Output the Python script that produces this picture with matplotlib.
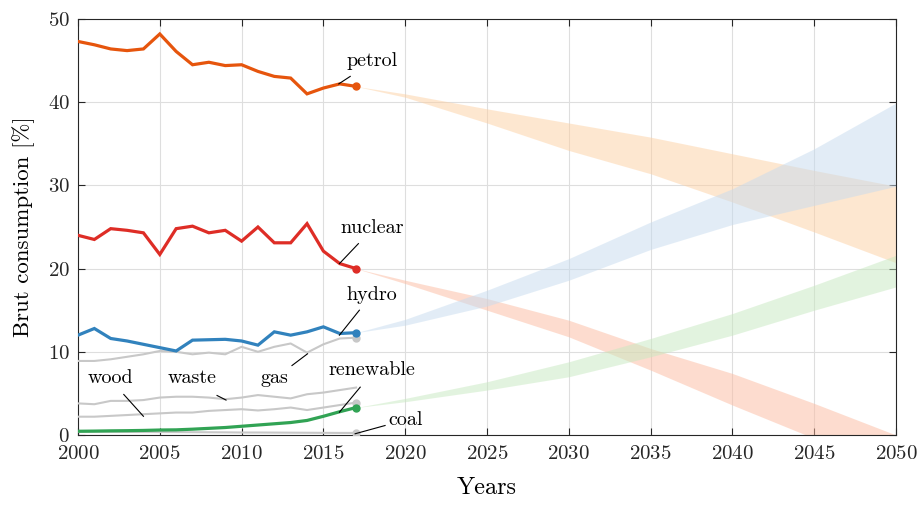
import numpy as np
import matplotlib
matplotlib.use("Agg")
import matplotlib.pyplot as plt

plt.rcParams['font.family'] = 'serif'
plt.rcParams['font.serif'] = ['cmr10', 'DejaVu Serif']
plt.rcParams['mathtext.fontset'] = 'cm'
plt.rcParams['axes.formatter.use_mathtext'] = True

# Historical shares of gross consumption, 2000-2017 [%]
years = list(range(2000, 2018))
petrol = [47.3, 46.9, 46.4, 46.2, 46.4, 48.2, 46.1, 44.5, 44.8, 44.4, 44.5, 43.7,
          43.1, 42.9, 41.0, 41.7, 42.2, 41.9]
nuclear = [24.0, 23.5, 24.8, 24.6, 24.3, 21.7, 24.8, 25.1, 24.3, 24.6, 23.3, 25.0,
           23.1, 23.1, 25.4, 22.1, 20.6, 20.0]
hydro = [12.0, 12.8, 11.6, 11.3, 10.9, 10.5, 10.1, 11.4, 11.45, 11.5, 11.3, 10.8,
         12.4, 12.0, 12.4, 13.0, 12.2, 12.3]
gas = [8.9, 8.9, 9.1, 9.4, 9.7, 10.1, 10.0, 9.7, 9.9, 9.7, 10.6, 10.0,
       10.6, 11.0, 9.9, 10.9, 11.6, 11.7]
waste = [3.8, 3.7, 4.1, 4.1, 4.2, 4.5, 4.6, 4.6, 4.5, 4.3, 4.5, 4.8,
         4.6, 4.4, 4.9, 5.1, 5.4, 5.7]
wood = [2.2, 2.2, 2.3, 2.4, 2.5, 2.6, 2.7, 2.7, 2.9, 3.0, 3.1, 2.95,
        3.1, 3.3, 3.0, 3.3, 3.6, 3.9]
renewable = [0.45, 0.47, 0.5, 0.52, 0.55, 0.6, 0.62, 0.7, 0.8, 0.9, 1.05, 1.2,
             1.35, 1.5, 1.75, 2.25, 2.8, 3.3]
coal = [0.4, 0.4, 0.38, 0.37, 0.36, 0.35, 0.35, 0.34, 0.33, 0.32, 0.3, 0.3,
        0.29, 0.28, 0.27, 0.26, 0.25, 0.25]

# Projected ranges 2017-2050 (upper / lower bound)
proj_years = [2017, 2020, 2025, 2030, 2035, 2040, 2045, 2050]
petrol_hi = [41.9, 41.0, 39.2, 37.5, 35.8, 33.8, 31.8, 29.9]
petrol_lo = [41.9, 40.6, 37.5, 34.2, 31.4, 28.0, 24.4, 20.7]
nuclear_hi = [20.0, 18.6, 16.4, 13.8, 10.4, 7.4, 3.8, 0.0]
nuclear_lo = [20.0, 18.2, 15.0, 11.8, 7.8, 3.6, -0.4, -4.4]
hydro_hi = [12.3, 13.9, 17.4, 21.2, 25.6, 29.6, 34.4, 39.9]
hydro_lo = [12.3, 13.2, 15.5, 18.6, 22.3, 25.3, 27.6, 29.9]
renew_hi = [3.3, 4.4, 6.4, 8.8, 11.6, 14.6, 18.0, 21.6]
renew_lo = [3.3, 4.0, 5.4, 7.0, 9.4, 12.0, 15.0, 17.8]

c_petrol, c_nuclear, c_hydro, c_renew = '#e6550d', '#de2d26', '#3182bd', '#31a354'
c_gray = '#c8c8c8'

fig = plt.figure(figsize=(9.24, 5.05), dpi=100)
ax = fig.add_axes([0.0844, 0.1386, 0.8853, 0.8238])

# projection bands
ax.fill_between(proj_years, petrol_lo, petrol_hi, color='#fdd0a2', alpha=0.5, lw=0, zorder=1)
ax.fill_between(proj_years, nuclear_lo, nuclear_hi, color='#fcbba1', alpha=0.5, lw=0, zorder=1)
ax.fill_between(proj_years, hydro_lo, hydro_hi, color='#c6dbef', alpha=0.5, lw=0, zorder=1)
ax.fill_between(proj_years, renew_lo, renew_hi, color='#c7e9c0', alpha=0.5, lw=0, zorder=1)

# gray series
for s, dot in ((coal, True), (wood, True), (waste, False), (gas, True)):
    ax.plot(years, s, color=c_gray, lw=1.5, zorder=3)
    if dot:
        ax.plot(years[-1], s[-1], 'o', color=c_gray, ms=5, zorder=3)

# main series
for s, c in ((renewable, c_renew), (hydro, c_hydro), (nuclear, c_nuclear), (petrol, c_petrol)):
    ax.plot(years, s, color=c, lw=2.3, zorder=4, solid_joinstyle='miter')
    ax.plot(years[-1], s[-1], 'o', color=c, ms=5, zorder=4)

# labels with leader lines: (text, point, line end, text centre)
labels = [
    ('petrol', (2015.94, 42.2), (2016.64, 43.1), (2017.98, 45.0)),
    ('nuclear', (2015.98, 20.6), (2017.14, 23.0), (2017.98, 24.9)),
    ('hydro', (2015.98, 12.0), (2017.2, 15.0), (2017.98, 16.8)),
    ('gas', (2014.03, 9.76), (2013.08, 8.35), (2012.0, 6.8)),
    ('wood', (2004.0, 2.25), (2002.8, 4.87), (2002.0, 6.8)),
    ('waste', (2009.05, 4.2), (2008.5, 4.75), (2007.0, 6.8)),
    ('renewable', (2015.98, 2.74), (2017.25, 5.75), (2017.98, 7.75)),
    ('coal', (2016.94, 0.15), (2018.77, 1.14), (2020.0, 1.74)),
]
for txt, p, e, t in labels:
    ax.plot([p[0], e[0]], [p[1], e[1]], color='k', lw=0.8, zorder=5)
    ax.text(t[0], t[1], txt, ha='center', va='center', fontsize=14.5, zorder=6)

ax.set_xlim(2000, 2050)
ax.set_ylim(0, 50)
ax.set_xticks(range(2000, 2051, 5))
ax.set_yticks(range(0, 51, 10))
ax.grid(True, color='#dedede', lw=0.8, zorder=0)
ax.set_axisbelow(True)
ax.tick_params(direction='in', top=True, right=True, length=5, width=0.8,
               labelsize=15, colors='#262626')
ax.tick_params(axis='x', pad=7)
ax.tick_params(axis='y', pad=6)
for sp in ax.spines.values():
    sp.set_color('#262626')
    sp.set_linewidth(0.8)
ax.set_xlabel('Years', fontsize=17.5, labelpad=10)
ax.set_ylabel('Brut consumption [%]', fontsize=16.5, labelpad=9)

fig.savefig('out.png', dpi=100)
